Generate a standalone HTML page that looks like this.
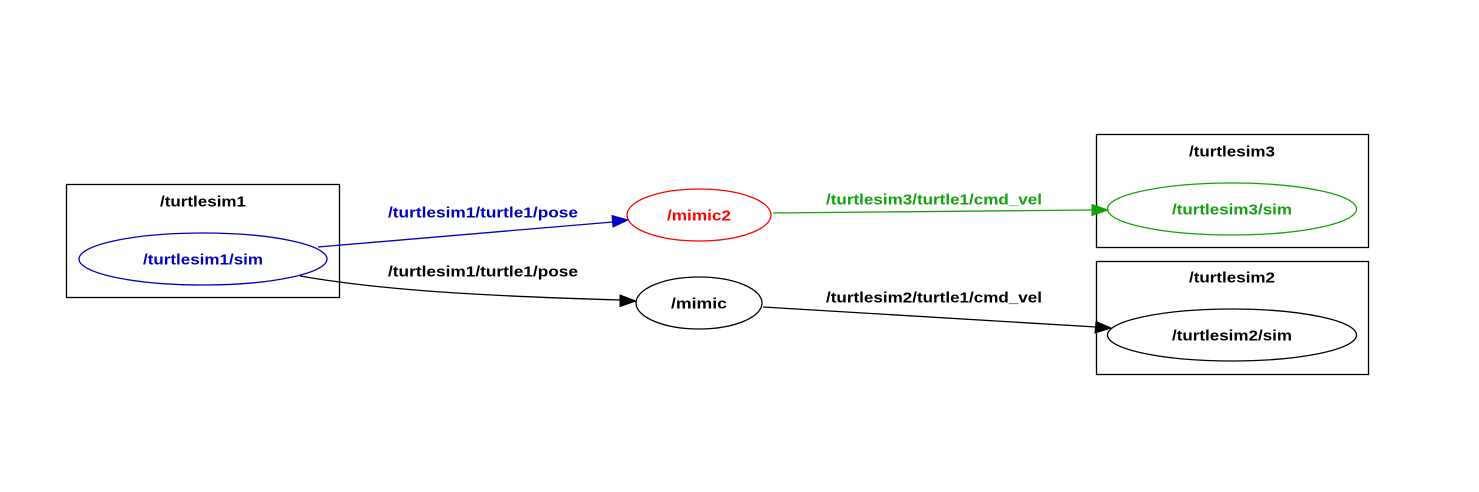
<!DOCTYPE html>
<html><head><meta charset="utf-8"><style>
html,body{margin:0;padding:0;background:#fff;width:1479px;height:492px;overflow:hidden}
text{font-family:"Liberation Sans",sans-serif;font-weight:bold;font-size:15px;text-anchor:middle;dominant-baseline:central}
</style></head><body>
<svg width="1479" height="492" viewBox="0 0 1479 492" xmlns="http://www.w3.org/2000/svg">
<g fill="none" stroke-width="1.3">
<rect x="66.5" y="184.5" width="273" height="113" stroke="#000"/>
<rect x="1096.5" y="134.5" width="272" height="113" stroke="#000"/>
<rect x="1096.5" y="261.5" width="272" height="113" stroke="#000"/>
<ellipse cx="203" cy="259" rx="124" ry="26" stroke="#0000c0"/>
<ellipse cx="699" cy="215" rx="72" ry="26" stroke="#ff0000"/>
<ellipse cx="699" cy="303" rx="63" ry="26" stroke="#000"/>
<ellipse cx="1232" cy="209" rx="124.5" ry="26" stroke="#13a10e"/>
<ellipse cx="1232" cy="335" rx="124.5" ry="26" stroke="#000"/>
<path d="M318 247 L613 222" stroke="#0000c0"/>
<path d="M773 213 L1093 210" stroke="#13a10e"/>
<path d="M300 276 C380 290 480 296 621 300" stroke="#000"/>
<path d="M763 307 L1096 327" stroke="#000"/>
</g>
<polygon points="628,220 612,215.5 613,227" fill="#0000c0" stroke="#0000c0"/>
<polygon points="1108,210 1092,204.5 1092,215.5" fill="#13a10e" stroke="#13a10e"/>
<polygon points="636,301 620,295 620,306.5" fill="#000" stroke="#000"/>
<polygon points="1111,328 1096,321.5 1095,333" fill="#000" stroke="#000"/>
<text x="203" y="202" textLength="86" lengthAdjust="spacingAndGlyphs">/turtlesim1</text>
<text x="203" y="260" fill="#0000c0" textLength="120" lengthAdjust="spacingAndGlyphs">/turtlesim1/sim</text>
<text x="699" y="216" fill="#ff0000" textLength="64" lengthAdjust="spacingAndGlyphs">/mimic2</text>
<text x="699" y="304" textLength="56" lengthAdjust="spacingAndGlyphs">/mimic</text>
<text x="1232" y="152" textLength="86" lengthAdjust="spacingAndGlyphs">/turtlesim3</text>
<text x="1232" y="210" fill="#13a10e" textLength="120" lengthAdjust="spacingAndGlyphs">/turtlesim3/sim</text>
<text x="1232" y="278" textLength="86" lengthAdjust="spacingAndGlyphs">/turtlesim2</text>
<text x="1232" y="336" textLength="120" lengthAdjust="spacingAndGlyphs">/turtlesim2/sim</text>
<text x="483" y="213" fill="#0000c0" textLength="190" lengthAdjust="spacingAndGlyphs">/turtlesim1/turtle1/pose</text>
<text x="483" y="272" textLength="190" lengthAdjust="spacingAndGlyphs">/turtlesim1/turtle1/pose</text>
<text x="934" y="200" fill="#13a10e" textLength="216" lengthAdjust="spacingAndGlyphs">/turtlesim3/turtle1/cmd_vel</text>
<text x="934" y="298" textLength="216" lengthAdjust="spacingAndGlyphs">/turtlesim2/turtle1/cmd_vel</text>
</svg>
</body></html>
